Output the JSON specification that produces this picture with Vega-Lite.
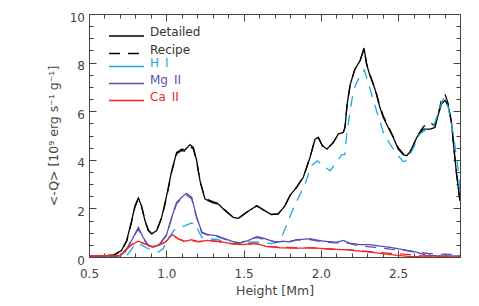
{
"$schema": "https://vega.github.io/schema/vega-lite/v6.json",
"width": 371, "height": 243,
"autosize": {"type": "none"},
"padding": {"left": 89, "top": 14, "right": 19, "bottom": 49},
"background": "white",
"config": {"view": {"stroke": null}, "font": "DejaVu Sans",
 "axis": {"domainColor": "#444", "tickColor": "#444", "labelColor": "#444", "titleColor": "#444", "labelFont": "DejaVu Sans", "titleFont": "DejaVu Sans", "labelFontSize": 12, "titleFontSize": 12.5, "titleFontWeight": "normal", "grid": false, "labelFlush": false, "labelOverlap": false, "labelBound": false, "tickWidth": 1, "domainWidth": 1},
 "legend": {"labelFont": "DejaVu Sans", "labelFontSize": 12, "labelColor": "#333"}},
"data": {"values": [
{"h":0.50,"q":0.05,"el":"Total","m":"Detailed"},{"h":0.60,"q":0.05,"el":"Total","m":"Detailed"},{"h":0.66,"q":0.08,"el":"Total","m":"Detailed"},{"h":0.71,"q":0.27,"el":"Total","m":"Detailed"},{"h":0.744,"q":0.68,"el":"Total","m":"Detailed"},{"h":0.776,"q":1.5,"el":"Total","m":"Detailed"},{"h":0.797,"q":2.1,"el":"Total","m":"Detailed"},{"h":0.819,"q":2.43,"el":"Total","m":"Detailed"},{"h":0.84,"q":2.1,"el":"Total","m":"Detailed"},{"h":0.862,"q":1.5,"el":"Total","m":"Detailed"},{"h":0.884,"q":1.09,"el":"Total","m":"Detailed"},{"h":0.905,"q":0.95,"el":"Total","m":"Detailed"},{"h":0.938,"q":1.09,"el":"Total","m":"Detailed"},{"h":0.97,"q":1.63,"el":"Total","m":"Detailed"},{"h":1.0,"q":2.46,"el":"Total","m":"Detailed"},{"h":1.035,"q":3.55,"el":"Total","m":"Detailed"},{"h":1.067,"q":4.3,"el":"Total","m":"Detailed"},{"h":1.10,"q":4.44,"el":"Total","m":"Detailed"},{"h":1.12,"q":4.4,"el":"Total","m":"Detailed"},{"h":1.153,"q":4.62,"el":"Total","m":"Detailed"},{"h":1.175,"q":4.51,"el":"Total","m":"Detailed"},{"h":1.197,"q":3.96,"el":"Total","m":"Detailed"},{"h":1.218,"q":3.14,"el":"Total","m":"Detailed"},{"h":1.25,"q":2.39,"el":"Total","m":"Detailed"},{"h":1.293,"q":2.25,"el":"Total","m":"Detailed"},{"h":1.336,"q":2.18,"el":"Total","m":"Detailed"},{"h":1.38,"q":1.91,"el":"Total","m":"Detailed"},{"h":1.433,"q":1.63,"el":"Total","m":"Detailed"},{"h":1.466,"q":1.59,"el":"Total","m":"Detailed"},{"h":1.52,"q":1.84,"el":"Total","m":"Detailed"},{"h":1.585,"q":2.11,"el":"Total","m":"Detailed"},{"h":1.628,"q":1.94,"el":"Total","m":"Detailed"},{"h":1.68,"q":1.75,"el":"Total","m":"Detailed"},{"h":1.724,"q":1.77,"el":"Total","m":"Detailed"},{"h":1.768,"q":2.11,"el":"Total","m":"Detailed"},{"h":1.80,"q":2.53,"el":"Total","m":"Detailed"},{"h":1.843,"q":2.87,"el":"Total","m":"Detailed"},{"h":1.886,"q":3.28,"el":"Total","m":"Detailed"},{"h":1.93,"q":4.1,"el":"Total","m":"Detailed"},{"h":1.962,"q":4.85,"el":"Total","m":"Detailed"},{"h":1.983,"q":4.92,"el":"Total","m":"Detailed"},{"h":2.01,"q":4.58,"el":"Total","m":"Detailed"},{"h":2.04,"q":4.44,"el":"Total","m":"Detailed"},{"h":2.08,"q":4.71,"el":"Total","m":"Detailed"},{"h":2.113,"q":5.06,"el":"Total","m":"Detailed"},{"h":2.145,"q":5.13,"el":"Total","m":"Detailed"},{"h":2.156,"q":5.33,"el":"Total","m":"Detailed"},{"h":2.17,"q":6.3,"el":"Total","m":"Detailed"},{"h":2.19,"q":7.1,"el":"Total","m":"Detailed"},{"h":2.22,"q":7.73,"el":"Total","m":"Detailed"},{"h":2.253,"q":8.07,"el":"Total","m":"Detailed"},{"h":2.279,"q":8.6,"el":"Total","m":"Detailed"},{"h":2.296,"q":7.93,"el":"Total","m":"Detailed"},{"h":2.318,"q":7.45,"el":"Total","m":"Detailed"},{"h":2.35,"q":6.91,"el":"Total","m":"Detailed"},{"h":2.382,"q":6.15,"el":"Total","m":"Detailed"},{"h":2.404,"q":5.74,"el":"Total","m":"Detailed"},{"h":2.436,"q":5.33,"el":"Total","m":"Detailed"},{"h":2.468,"q":4.92,"el":"Total","m":"Detailed"},{"h":2.50,"q":4.44,"el":"Total","m":"Detailed"},{"h":2.533,"q":4.21,"el":"Total","m":"Detailed"},{"h":2.555,"q":4.17,"el":"Total","m":"Detailed"},{"h":2.587,"q":4.40,"el":"Total","m":"Detailed"},{"h":2.62,"q":4.92,"el":"Total","m":"Detailed"},{"h":2.662,"q":5.26,"el":"Total","m":"Detailed"},{"h":2.706,"q":5.26,"el":"Total","m":"Detailed"},{"h":2.738,"q":5.33,"el":"Total","m":"Detailed"},{"h":2.76,"q":5.88,"el":"Total","m":"Detailed"},{"h":2.781,"q":6.3,"el":"Total","m":"Detailed"},{"h":2.803,"q":6.45,"el":"Total","m":"Detailed"},{"h":2.824,"q":6.22,"el":"Total","m":"Detailed"},{"h":2.846,"q":5.47,"el":"Total","m":"Detailed"},{"h":2.86,"q":4.5,"el":"Total","m":"Detailed"},{"h":2.878,"q":3.4,"el":"Total","m":"Detailed"},{"h":2.9,"q":2.3,"el":"Total","m":"Detailed"},
{"h":0.50,"q":0.05,"el":"Total","m":"Recipe"},{"h":0.60,"q":0.05,"el":"Total","m":"Recipe"},{"h":0.66,"q":0.08,"el":"Total","m":"Recipe"},{"h":0.71,"q":0.25,"el":"Total","m":"Recipe"},{"h":0.744,"q":0.65,"el":"Total","m":"Recipe"},{"h":0.776,"q":1.45,"el":"Total","m":"Recipe"},{"h":0.797,"q":2.05,"el":"Total","m":"Recipe"},{"h":0.819,"q":2.38,"el":"Total","m":"Recipe"},{"h":0.84,"q":2.08,"el":"Total","m":"Recipe"},{"h":0.862,"q":1.5,"el":"Total","m":"Recipe"},{"h":0.884,"q":1.1,"el":"Total","m":"Recipe"},{"h":0.905,"q":0.97,"el":"Total","m":"Recipe"},{"h":0.938,"q":1.1,"el":"Total","m":"Recipe"},{"h":0.97,"q":1.6,"el":"Total","m":"Recipe"},{"h":1.0,"q":2.4,"el":"Total","m":"Recipe"},{"h":1.035,"q":3.5,"el":"Total","m":"Recipe"},{"h":1.067,"q":4.25,"el":"Total","m":"Recipe"},{"h":1.10,"q":4.38,"el":"Total","m":"Recipe"},{"h":1.12,"q":4.36,"el":"Total","m":"Recipe"},{"h":1.153,"q":4.55,"el":"Total","m":"Recipe"},{"h":1.175,"q":4.45,"el":"Total","m":"Recipe"},{"h":1.197,"q":3.9,"el":"Total","m":"Recipe"},{"h":1.218,"q":3.1,"el":"Total","m":"Recipe"},{"h":1.25,"q":2.42,"el":"Total","m":"Recipe"},{"h":1.293,"q":2.3,"el":"Total","m":"Recipe"},{"h":1.336,"q":2.2,"el":"Total","m":"Recipe"},{"h":1.38,"q":1.93,"el":"Total","m":"Recipe"},{"h":1.433,"q":1.63,"el":"Total","m":"Recipe"},{"h":1.466,"q":1.59,"el":"Total","m":"Recipe"},{"h":1.52,"q":1.84,"el":"Total","m":"Recipe"},{"h":1.585,"q":2.11,"el":"Total","m":"Recipe"},{"h":1.628,"q":1.94,"el":"Total","m":"Recipe"},{"h":1.68,"q":1.75,"el":"Total","m":"Recipe"},{"h":1.724,"q":1.77,"el":"Total","m":"Recipe"},{"h":1.768,"q":2.11,"el":"Total","m":"Recipe"},{"h":1.80,"q":2.53,"el":"Total","m":"Recipe"},{"h":1.843,"q":2.87,"el":"Total","m":"Recipe"},{"h":1.886,"q":3.28,"el":"Total","m":"Recipe"},{"h":1.93,"q":4.1,"el":"Total","m":"Recipe"},{"h":1.962,"q":4.85,"el":"Total","m":"Recipe"},{"h":1.983,"q":4.92,"el":"Total","m":"Recipe"},{"h":2.01,"q":4.58,"el":"Total","m":"Recipe"},{"h":2.04,"q":4.44,"el":"Total","m":"Recipe"},{"h":2.08,"q":4.71,"el":"Total","m":"Recipe"},{"h":2.113,"q":5.06,"el":"Total","m":"Recipe"},{"h":2.145,"q":5.13,"el":"Total","m":"Recipe"},{"h":2.156,"q":5.33,"el":"Total","m":"Recipe"},{"h":2.17,"q":6.3,"el":"Total","m":"Recipe"},{"h":2.19,"q":7.1,"el":"Total","m":"Recipe"},{"h":2.22,"q":7.73,"el":"Total","m":"Recipe"},{"h":2.253,"q":8.07,"el":"Total","m":"Recipe"},{"h":2.279,"q":8.55,"el":"Total","m":"Recipe"},{"h":2.296,"q":7.95,"el":"Total","m":"Recipe"},{"h":2.318,"q":7.5,"el":"Total","m":"Recipe"},{"h":2.35,"q":6.95,"el":"Total","m":"Recipe"},{"h":2.382,"q":6.2,"el":"Total","m":"Recipe"},{"h":2.404,"q":5.8,"el":"Total","m":"Recipe"},{"h":2.436,"q":5.38,"el":"Total","m":"Recipe"},{"h":2.468,"q":4.95,"el":"Total","m":"Recipe"},{"h":2.50,"q":4.5,"el":"Total","m":"Recipe"},{"h":2.533,"q":4.25,"el":"Total","m":"Recipe"},{"h":2.555,"q":4.2,"el":"Total","m":"Recipe"},{"h":2.587,"q":4.45,"el":"Total","m":"Recipe"},{"h":2.62,"q":4.95,"el":"Total","m":"Recipe"},{"h":2.662,"q":5.35,"el":"Total","m":"Recipe"},{"h":2.70,"q":5.55,"el":"Total","m":"Recipe"},{"h":2.738,"q":5.4,"el":"Total","m":"Recipe"},{"h":2.76,"q":5.9,"el":"Total","m":"Recipe"},{"h":2.781,"q":6.5,"el":"Total","m":"Recipe"},{"h":2.803,"q":6.7,"el":"Total","m":"Recipe"},{"h":2.824,"q":6.3,"el":"Total","m":"Recipe"},{"h":2.846,"q":5.5,"el":"Total","m":"Recipe"},{"h":2.86,"q":4.5,"el":"Total","m":"Recipe"},{"h":2.878,"q":3.4,"el":"Total","m":"Recipe"},{"h":2.9,"q":2.3,"el":"Total","m":"Recipe"},
{"h":0.50,"q":0.02,"el":"H I","m":"Recipe"},{"h":0.70,"q":0.02,"el":"H I","m":"Recipe"},{"h":0.75,"q":0.1,"el":"H I","m":"Recipe"},{"h":0.80,"q":0.55,"el":"H I","m":"Recipe"},{"h":0.84,"q":0.5,"el":"H I","m":"Recipe"},{"h":0.88,"q":0.35,"el":"H I","m":"Recipe"},{"h":0.95,"q":0.2,"el":"H I","m":"Recipe"},{"h":0.98,"q":0.35,"el":"H I","m":"Recipe"},{"h":1.01,"q":0.75,"el":"H I","m":"Recipe"},{"h":1.05,"q":1.1,"el":"H I","m":"Recipe"},{"h":1.09,"q":1.25,"el":"H I","m":"Recipe"},{"h":1.12,"q":1.28,"el":"H I","m":"Recipe"},{"h":1.16,"q":1.39,"el":"H I","m":"Recipe"},{"h":1.19,"q":1.38,"el":"H I","m":"Recipe"},{"h":1.207,"q":1.09,"el":"H I","m":"Recipe"},{"h":1.23,"q":0.81,"el":"H I","m":"Recipe"},{"h":1.27,"q":0.75,"el":"H I","m":"Recipe"},{"h":1.33,"q":0.72,"el":"H I","m":"Recipe"},{"h":1.40,"q":0.58,"el":"H I","m":"Recipe"},{"h":1.44,"q":0.54,"el":"H I","m":"Recipe"},{"h":1.51,"q":0.6,"el":"H I","m":"Recipe"},{"h":1.56,"q":0.62,"el":"H I","m":"Recipe"},{"h":1.62,"q":0.6,"el":"H I","m":"Recipe"},{"h":1.68,"q":0.55,"el":"H I","m":"Recipe"},{"h":1.72,"q":0.6,"el":"H I","m":"Recipe"},{"h":1.746,"q":0.81,"el":"H I","m":"Recipe"},{"h":1.82,"q":1.98,"el":"H I","m":"Recipe"},{"h":1.897,"q":3.0,"el":"H I","m":"Recipe"},{"h":1.94,"q":3.76,"el":"H I","m":"Recipe"},{"h":1.977,"q":3.96,"el":"H I","m":"Recipe"},{"h":2.016,"q":3.76,"el":"H I","m":"Recipe"},{"h":2.06,"q":3.55,"el":"H I","m":"Recipe"},{"h":2.10,"q":3.9,"el":"H I","m":"Recipe"},{"h":2.135,"q":4.21,"el":"H I","m":"Recipe"},{"h":2.155,"q":4.21,"el":"H I","m":"Recipe"},{"h":2.167,"q":5.07,"el":"H I","m":"Recipe"},{"h":2.19,"q":6.02,"el":"H I","m":"Recipe"},{"h":2.21,"q":6.84,"el":"H I","m":"Recipe"},{"h":2.24,"q":7.29,"el":"H I","m":"Recipe"},{"h":2.28,"q":7.7,"el":"H I","m":"Recipe"},{"h":2.306,"q":7.18,"el":"H I","m":"Recipe"},{"h":2.34,"q":6.43,"el":"H I","m":"Recipe"},{"h":2.37,"q":5.81,"el":"H I","m":"Recipe"},{"h":2.404,"q":5.13,"el":"H I","m":"Recipe"},{"h":2.447,"q":4.65,"el":"H I","m":"Recipe"},{"h":2.49,"q":4.24,"el":"H I","m":"Recipe"},{"h":2.533,"q":3.93,"el":"H I","m":"Recipe"},{"h":2.555,"q":3.96,"el":"H I","m":"Recipe"},{"h":2.6,"q":4.51,"el":"H I","m":"Recipe"},{"h":2.64,"q":5.06,"el":"H I","m":"Recipe"},{"h":2.684,"q":5.26,"el":"H I","m":"Recipe"},{"h":2.727,"q":5.33,"el":"H I","m":"Recipe"},{"h":2.77,"q":6.15,"el":"H I","m":"Recipe"},{"h":2.796,"q":6.56,"el":"H I","m":"Recipe"},{"h":2.824,"q":6.15,"el":"H I","m":"Recipe"},{"h":2.857,"q":5.06,"el":"H I","m":"Recipe"},{"h":2.89,"q":3.5,"el":"H I","m":"Recipe"},{"h":2.9,"q":2.6,"el":"H I","m":"Recipe"},
{"h":0.50,"q":0.03,"el":"Mg II","m":"Detailed"},{"h":0.70,"q":0.05,"el":"Mg II","m":"Detailed"},{"h":0.733,"q":0.2,"el":"Mg II","m":"Detailed"},{"h":0.776,"q":0.68,"el":"Mg II","m":"Detailed"},{"h":0.819,"q":1.22,"el":"Mg II","m":"Detailed"},{"h":0.85,"q":0.81,"el":"Mg II","m":"Detailed"},{"h":0.884,"q":0.47,"el":"Mg II","m":"Detailed"},{"h":0.916,"q":0.4,"el":"Mg II","m":"Detailed"},{"h":0.96,"q":0.54,"el":"Mg II","m":"Detailed"},{"h":1.0,"q":0.88,"el":"Mg II","m":"Detailed"},{"h":1.035,"q":1.63,"el":"Mg II","m":"Detailed"},{"h":1.067,"q":2.25,"el":"Mg II","m":"Detailed"},{"h":1.10,"q":2.46,"el":"Mg II","m":"Detailed"},{"h":1.13,"q":2.62,"el":"Mg II","m":"Detailed"},{"h":1.164,"q":2.46,"el":"Mg II","m":"Detailed"},{"h":1.197,"q":1.63,"el":"Mg II","m":"Detailed"},{"h":1.23,"q":1.02,"el":"Mg II","m":"Detailed"},{"h":1.27,"q":0.92,"el":"Mg II","m":"Detailed"},{"h":1.326,"q":0.88,"el":"Mg II","m":"Detailed"},{"h":1.38,"q":0.75,"el":"Mg II","m":"Detailed"},{"h":1.433,"q":0.63,"el":"Mg II","m":"Detailed"},{"h":1.477,"q":0.57,"el":"Mg II","m":"Detailed"},{"h":1.53,"q":0.68,"el":"Mg II","m":"Detailed"},{"h":1.585,"q":0.84,"el":"Mg II","m":"Detailed"},{"h":1.64,"q":0.75,"el":"Mg II","m":"Detailed"},{"h":1.703,"q":0.61,"el":"Mg II","m":"Detailed"},{"h":1.757,"q":0.65,"el":"Mg II","m":"Detailed"},{"h":1.80,"q":0.62,"el":"Mg II","m":"Detailed"},{"h":1.843,"q":0.71,"el":"Mg II","m":"Detailed"},{"h":1.93,"q":0.75,"el":"Mg II","m":"Detailed"},{"h":2.016,"q":0.65,"el":"Mg II","m":"Detailed"},{"h":2.1,"q":0.61,"el":"Mg II","m":"Detailed"},{"h":2.145,"q":0.68,"el":"Mg II","m":"Detailed"},{"h":2.188,"q":0.57,"el":"Mg II","m":"Detailed"},{"h":2.253,"q":0.51,"el":"Mg II","m":"Detailed"},{"h":2.318,"q":0.51,"el":"Mg II","m":"Detailed"},{"h":2.38,"q":0.45,"el":"Mg II","m":"Detailed"},{"h":2.447,"q":0.40,"el":"Mg II","m":"Detailed"},{"h":2.533,"q":0.3,"el":"Mg II","m":"Detailed"},{"h":2.62,"q":0.2,"el":"Mg II","m":"Detailed"},{"h":2.684,"q":0.06,"el":"Mg II","m":"Detailed"},{"h":2.75,"q":0.05,"el":"Mg II","m":"Detailed"},{"h":2.9,"q":0.05,"el":"Mg II","m":"Detailed"},
{"h":0.50,"q":0.03,"el":"Mg II","m":"Recipe"},{"h":0.70,"q":0.05,"el":"Mg II","m":"Recipe"},{"h":0.733,"q":0.22,"el":"Mg II","m":"Recipe"},{"h":0.776,"q":0.7,"el":"Mg II","m":"Recipe"},{"h":0.819,"q":1.15,"el":"Mg II","m":"Recipe"},{"h":0.85,"q":0.78,"el":"Mg II","m":"Recipe"},{"h":0.884,"q":0.47,"el":"Mg II","m":"Recipe"},{"h":0.916,"q":0.42,"el":"Mg II","m":"Recipe"},{"h":0.96,"q":0.56,"el":"Mg II","m":"Recipe"},{"h":1.0,"q":0.9,"el":"Mg II","m":"Recipe"},{"h":1.035,"q":1.6,"el":"Mg II","m":"Recipe"},{"h":1.067,"q":2.2,"el":"Mg II","m":"Recipe"},{"h":1.10,"q":2.4,"el":"Mg II","m":"Recipe"},{"h":1.13,"q":2.54,"el":"Mg II","m":"Recipe"},{"h":1.164,"q":2.4,"el":"Mg II","m":"Recipe"},{"h":1.197,"q":1.6,"el":"Mg II","m":"Recipe"},{"h":1.23,"q":1.0,"el":"Mg II","m":"Recipe"},{"h":1.27,"q":0.9,"el":"Mg II","m":"Recipe"},{"h":1.326,"q":0.85,"el":"Mg II","m":"Recipe"},{"h":1.38,"q":0.72,"el":"Mg II","m":"Recipe"},{"h":1.433,"q":0.62,"el":"Mg II","m":"Recipe"},{"h":1.477,"q":0.58,"el":"Mg II","m":"Recipe"},{"h":1.53,"q":0.7,"el":"Mg II","m":"Recipe"},{"h":1.585,"q":0.8,"el":"Mg II","m":"Recipe"},{"h":1.64,"q":0.72,"el":"Mg II","m":"Recipe"},{"h":1.703,"q":0.63,"el":"Mg II","m":"Recipe"},{"h":1.757,"q":0.63,"el":"Mg II","m":"Recipe"},{"h":1.80,"q":0.65,"el":"Mg II","m":"Recipe"},{"h":1.843,"q":0.7,"el":"Mg II","m":"Recipe"},{"h":1.93,"q":0.72,"el":"Mg II","m":"Recipe"},{"h":2.016,"q":0.62,"el":"Mg II","m":"Recipe"},{"h":2.1,"q":0.58,"el":"Mg II","m":"Recipe"},{"h":2.145,"q":0.6,"el":"Mg II","m":"Recipe"},{"h":2.188,"q":0.55,"el":"Mg II","m":"Recipe"},{"h":2.253,"q":0.45,"el":"Mg II","m":"Recipe"},{"h":2.318,"q":0.42,"el":"Mg II","m":"Recipe"},{"h":2.38,"q":0.38,"el":"Mg II","m":"Recipe"},{"h":2.447,"q":0.32,"el":"Mg II","m":"Recipe"},{"h":2.533,"q":0.28,"el":"Mg II","m":"Recipe"},{"h":2.62,"q":0.2,"el":"Mg II","m":"Recipe"},{"h":2.7,"q":0.14,"el":"Mg II","m":"Recipe"},{"h":2.78,"q":0.12,"el":"Mg II","m":"Recipe"},{"h":2.9,"q":0.1,"el":"Mg II","m":"Recipe"},
{"h":0.50,"q":0.05,"el":"Ca II","m":"Detailed"},{"h":0.70,"q":0.06,"el":"Ca II","m":"Detailed"},{"h":0.744,"q":0.34,"el":"Ca II","m":"Detailed"},{"h":0.776,"q":0.51,"el":"Ca II","m":"Detailed"},{"h":0.819,"q":0.65,"el":"Ca II","m":"Detailed"},{"h":0.862,"q":0.54,"el":"Ca II","m":"Detailed"},{"h":0.905,"q":0.43,"el":"Ca II","m":"Detailed"},{"h":0.948,"q":0.47,"el":"Ca II","m":"Detailed"},{"h":0.992,"q":0.61,"el":"Ca II","m":"Detailed"},{"h":1.04,"q":0.92,"el":"Ca II","m":"Detailed"},{"h":1.078,"q":0.75,"el":"Ca II","m":"Detailed"},{"h":1.12,"q":0.65,"el":"Ca II","m":"Detailed"},{"h":1.164,"q":0.71,"el":"Ca II","m":"Detailed"},{"h":1.207,"q":0.64,"el":"Ca II","m":"Detailed"},{"h":1.27,"q":0.68,"el":"Ca II","m":"Detailed"},{"h":1.336,"q":0.65,"el":"Ca II","m":"Detailed"},{"h":1.41,"q":0.56,"el":"Ca II","m":"Detailed"},{"h":1.5,"q":0.51,"el":"Ca II","m":"Detailed"},{"h":1.573,"q":0.57,"el":"Ca II","m":"Detailed"},{"h":1.65,"q":0.43,"el":"Ca II","m":"Detailed"},{"h":1.735,"q":0.38,"el":"Ca II","m":"Detailed"},{"h":1.843,"q":0.36,"el":"Ca II","m":"Detailed"},{"h":1.95,"q":0.38,"el":"Ca II","m":"Detailed"},{"h":2.06,"q":0.32,"el":"Ca II","m":"Detailed"},{"h":2.167,"q":0.3,"el":"Ca II","m":"Detailed"},{"h":2.253,"q":0.24,"el":"Ca II","m":"Detailed"},{"h":2.318,"q":0.2,"el":"Ca II","m":"Detailed"},{"h":2.447,"q":0.1,"el":"Ca II","m":"Detailed"},{"h":2.576,"q":0.02,"el":"Ca II","m":"Detailed"},{"h":2.7,"q":0.0,"el":"Ca II","m":"Detailed"},{"h":2.9,"q":0.0,"el":"Ca II","m":"Detailed"},
{"h":0.50,"q":0.05,"el":"Ca II","m":"Recipe"},{"h":0.70,"q":0.06,"el":"Ca II","m":"Recipe"},{"h":0.744,"q":0.32,"el":"Ca II","m":"Recipe"},{"h":0.776,"q":0.5,"el":"Ca II","m":"Recipe"},{"h":0.819,"q":0.62,"el":"Ca II","m":"Recipe"},{"h":0.862,"q":0.55,"el":"Ca II","m":"Recipe"},{"h":0.905,"q":0.44,"el":"Ca II","m":"Recipe"},{"h":0.948,"q":0.48,"el":"Ca II","m":"Recipe"},{"h":0.992,"q":0.6,"el":"Ca II","m":"Recipe"},{"h":1.04,"q":0.9,"el":"Ca II","m":"Recipe"},{"h":1.078,"q":0.74,"el":"Ca II","m":"Recipe"},{"h":1.12,"q":0.63,"el":"Ca II","m":"Recipe"},{"h":1.164,"q":0.68,"el":"Ca II","m":"Recipe"},{"h":1.207,"q":0.62,"el":"Ca II","m":"Recipe"},{"h":1.27,"q":0.66,"el":"Ca II","m":"Recipe"},{"h":1.336,"q":0.63,"el":"Ca II","m":"Recipe"},{"h":1.41,"q":0.55,"el":"Ca II","m":"Recipe"},{"h":1.5,"q":0.5,"el":"Ca II","m":"Recipe"},{"h":1.573,"q":0.55,"el":"Ca II","m":"Recipe"},{"h":1.65,"q":0.44,"el":"Ca II","m":"Recipe"},{"h":1.735,"q":0.4,"el":"Ca II","m":"Recipe"},{"h":1.843,"q":0.38,"el":"Ca II","m":"Recipe"},{"h":1.95,"q":0.37,"el":"Ca II","m":"Recipe"},{"h":2.06,"q":0.33,"el":"Ca II","m":"Recipe"},{"h":2.167,"q":0.3,"el":"Ca II","m":"Recipe"},{"h":2.253,"q":0.26,"el":"Ca II","m":"Recipe"},{"h":2.318,"q":0.22,"el":"Ca II","m":"Recipe"},{"h":2.447,"q":0.15,"el":"Ca II","m":"Recipe"},{"h":2.576,"q":0.1,"el":"Ca II","m":"Recipe"},{"h":2.65,"q":0.05,"el":"Ca II","m":"Recipe"},{"h":2.9,"q":0.02,"el":"Ca II","m":"Recipe"}
]},
"resolve": {"axis": {"x": "independent", "y": "independent"}},
"layer": [
 {"mark": {"type": "line", "strokeWidth": 1.3, "clip": true},
  "encoding": {
   "x": {"field": "h", "type": "quantitative", "scale": {"domain": [0.5, 2.9], "nice": false, "zero": false},
     "axis": {"orient": "bottom", "values": [0.5, 1, 1.5, 2, 2.5], "format": ".1f", "tickSize": -7, "labelPadding": 18.5, "title": "Height [Mm]", "titlePadding": 5}},
   "y": {"field": "q", "type": "quantitative", "scale": {"domain": [0, 10], "nice": false, "zero": false},
     "axis": {"orient": "left", "values": [0, 2, 4, 6, 8, 10], "tickSize": -7, "labelPadding": 11.5, "labelOffset": 3, "title": "<-Q> [10⁹ erg s⁻¹ g⁻¹]", "titlePadding": 9}},
   "color": {"field": "el", "type": "nominal", "scale": {"domain": ["Total", "H I", "Mg II", "Ca II"], "range": ["#000000", "#1fa8dc", "#5a4fb0", "#f02828"]},
     "legend": {"orient": "none", "legendX": 29.5, "legendY": 44.5, "values": ["H I", "Mg II", "Ca II"], "title": null, "symbolType": "M-2.5,0H2.5", "symbolSize": 196, "symbolStrokeWidth": 1.3, "labelOffset": 15.5, "labelBaseline": "alphabetic", "padding": 0, "rowPadding": 4, "labelExpr": "replace(datum.label, ' ', '\u2002')",
       "encode": {"labels": {"update": {"fill": {"scale": "color", "field": "value"}}}}}},
   "strokeDash": {"field": "m", "type": "nominal", "scale": {"domain": ["Detailed", "Recipe"], "range": [[1, 0], [11, 8]]},
     "legend": {"orient": "none", "legendX": 29.5, "legendY": 14, "title": null, "symbolType": "M-2.5,0H2.5", "symbolSize": 196, "symbolStrokeWidth": 1.3, "symbolStrokeColor": "#000", "labelOffset": 15.5, "labelBaseline": "alphabetic", "padding": 0, "rowPadding": 4.5}}
  }},
 {"mark": {"type": "point", "opacity": 0, "size": 1},
  "encoding": {
   "x": {"field": "h", "type": "quantitative", "scale": {"domain": [0.5, 2.9], "nice": false, "zero": false},
     "axis": {"orient": "top", "values": [0.5, 1, 1.5, 2, 2.5], "tickSize": -7, "labels": false, "title": null}},
   "y": {"field": "q", "type": "quantitative", "scale": {"domain": [0, 10], "nice": false, "zero": false},
     "axis": {"orient": "right", "values": [0, 2, 4, 6, 8, 10], "tickSize": -7, "labels": false, "title": null}}
  }},
 {"mark": {"type": "point", "opacity": 0, "size": 1},
  "encoding": {
   "x": {"field": "h", "type": "quantitative", "scale": {"domain": [0.5, 2.9], "nice": false, "zero": false},
     "axis": {"orient": "bottom", "values": [0.6,0.7,0.8,0.9,1.1,1.2,1.3,1.4,1.6,1.7,1.8,1.9,2.1,2.2,2.3,2.4,2.6,2.7,2.8], "tickSize": -4, "labels": false, "domain": false, "title": null}},
   "y": {"field": "q", "type": "quantitative", "scale": {"domain": [0, 10], "nice": false, "zero": false},
     "axis": {"orient": "left", "values": [0.5,1,1.5,2.5,3,3.5,4.5,5,5.5,6.5,7,7.5,8.5,9,9.5], "tickSize": -4, "labels": false, "domain": false, "title": null}}
  }},
 {"mark": {"type": "point", "opacity": 0, "size": 1},
  "encoding": {
   "x": {"field": "h", "type": "quantitative", "scale": {"domain": [0.5, 2.9], "nice": false, "zero": false},
     "axis": {"orient": "top", "values": [0.6,0.7,0.8,0.9,1.1,1.2,1.3,1.4,1.6,1.7,1.8,1.9,2.1,2.2,2.3,2.4,2.6,2.7,2.8], "tickSize": -4, "labels": false, "domain": false, "title": null}},
   "y": {"field": "q", "type": "quantitative", "scale": {"domain": [0, 10], "nice": false, "zero": false},
     "axis": {"orient": "right", "values": [0.5,1,1.5,2.5,3,3.5,4.5,5,5.5,6.5,7,7.5,8.5,9,9.5], "tickSize": -4, "labels": false, "domain": false, "title": null}}
  }}
]
}
